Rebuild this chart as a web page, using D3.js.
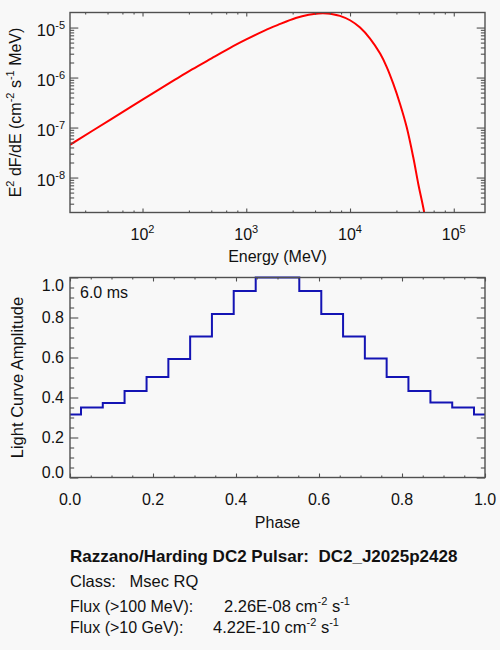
<!DOCTYPE html>
<html><head><meta charset="utf-8">
<script src="https://cdn.jsdelivr.net/npm/d3@7"></script>
<style>
html,body{margin:0;padding:0;background:#f8f8f8;}
svg{display:block;font-family:"Liberation Sans",Arial,Helvetica,sans-serif;}
text{fill:#111;white-space:pre;}
</style></head><body>
<svg id="c" width="500" height="650"></svg>
<script>
// ---- data ----
const energy = [20, 50, 100, 200, 300, 500, 700, 1000, 1500, 2000, 3000, 4000, 5000, 6000, 7000, 8000, 10000, 12500, 15600, 19500, 22600, 26100, 30300, 35200, 40700, 45500, 52000, 56000];
const sed    = [4.52e-8, 1.48e-7, 3.63e-7, 8.75e-7, 1.45e-6, 2.64e-6, 3.94e-6, 5.79e-6, 8.71e-6, 1.12e-5, 1.55e-5, 1.80e-5, 1.91e-5, 1.91e-5, 1.83e-5, 1.71e-5, 1.40e-5, 1.0e-5, 6.01e-6, 3.01e-6, 1.62e-6, 7.53e-7, 2.99e-7, 1.01e-7, 2.54e-8, 7.43e-9, 1.95e-9, 6.3e-10];
const phase  = [0.000, 0.053, 0.105, 0.158, 0.211, 0.263, 0.316, 0.368, 0.421, 0.474, 0.526, 0.579, 0.632, 0.684, 0.737, 0.789, 0.842, 0.895, 0.947, 1.000];
const amplitude = [0.315, 0.350, 0.373, 0.432, 0.503, 0.593, 0.705, 0.818, 0.933, 1.0, 1.0, 0.933, 0.818, 0.705, 0.595, 0.503, 0.432, 0.375, 0.350, 0.315];
const energyTicks = [100, 1000, 10000, 100000];
const energyExp   = ["2", "3", "4", "5"];
const sedTicks = [1e-8, 1e-7, 1e-6, 1e-5];
const sedExp   = ["-8", "-7", "-6", "-5"];
const energyMinorFactors = [2.8, 4.6, 6.4, 8.2];
const sedMinorFactors = [2, 3, 4, 5, 6, 7, 8, 9];
const phaseTicks = [0, 0.2, 0.4, 0.6, 0.8, 1.0];
const phaseMinor = [0.05, 0.1, 0.15, 0.25, 0.3, 0.35, 0.45, 0.5, 0.55, 0.65, 0.7, 0.75, 0.85, 0.9, 0.95];
const ampTicks = [0, 0.2, 0.4, 0.6, 0.8, 1.0];
const ampMinor = [0.05, 0.1, 0.15, 0.25, 0.3, 0.35, 0.45, 0.5, 0.55, 0.65, 0.7, 0.75, 0.85, 0.9, 0.95];
const periodLabel = "6.0 ms";
const infoTitle = "Razzano/Harding DC2 Pulsar:  DC2_J2025p2428";
const infoClass = "Class:   Msec RQ";
const fluxLabels = ["Flux (>100 MeV):", "Flux (>10 GeV):"];
const fluxValues = ["2.26E-08", "4.22E-10"];

// ---- layout ----
const L = 70, R = 485;
const T1 = 12.5, B1 = 212.5;
const T2 = 277.5, B2 = 477.5;
const frameColor = "#505050";
const svg = d3.select("#c");
svg.append("rect").attr("width", 500).attr("height", 650).attr("fill", "#f8f8f8");

const xE = d3.scaleLog().domain([20, 2e5]).range([L, R]);
const yF = d3.scaleLog().domain([2e-9, 2e-5]).range([B1, T1]);
const xP = d3.scaleLinear().domain([0, 1]).range([L, R]);
const yA = d3.scaleLinear().domain([0, 1]).range([B2, T2]);

function minorLog(domain, factors) {
  const out = [];
  const lo = Math.floor(Math.log10(domain[0])), hi = Math.ceil(Math.log10(domain[1]));
  for (let e = lo; e <= hi; e++) {
    factors.forEach(f => {
      const v = f * Math.pow(10, e);
      if (v > domain[0] * 1.0001 && v < domain[1] * 0.9999) out.push(v);
    });
  }
  return out;
}

function ticks(x, y, top, bottom, xMaj, xMin, yMaj, yMin) {
  const xl = (bottom - top) * 0.02, yl = (R - L) * 0.02;
  const defs = [
    [d3.axisBottom(x), bottom, xMaj, -xl, "x"], [d3.axisBottom(x), bottom, xMin, -xl / 2, "x"],
    [d3.axisTop(x), top, xMaj, -xl, "x"], [d3.axisTop(x), top, xMin, -xl / 2, "x"],
    [d3.axisLeft(y), L, yMaj, -yl, "y"], [d3.axisLeft(y), L, yMin, -yl / 2, "y"],
    [d3.axisRight(y), R, yMaj, -yl, "y"], [d3.axisRight(y), R, yMin, -yl / 2, "y"]
  ];
  defs.forEach(([ax, pos, vals, size, kind]) => {
    const g = svg.append("g")
      .attr("transform", kind === "x" ? `translate(0,${pos})` : `translate(${pos},0)`)
      .style("color", frameColor)
      .call(ax.tickValues(vals).tickSize(size).tickFormat(""));
    g.select(".domain").remove();
    g.selectAll("text").remove();
    g.selectAll("line").attr("stroke-width", 1.1);
  });
  svg.append("rect").attr("x", L).attr("y", top).attr("width", R - L).attr("height", bottom - top)
    .attr("fill", "none").attr("stroke", frameColor).attr("stroke-width", 1.4);
}

// ---- top: spectrum ----
svg.append("clipPath").attr("id", "clipTop").append("rect")
  .attr("x", L).attr("y", T1 - 2).attr("width", R - L).attr("height", B1 - T1 + 2);
svg.append("path")
  .datum(energy.map((e, i) => [e, sed[i]]))
  .attr("clip-path", "url(#clipTop)")
  .attr("fill", "none").attr("stroke", "#ff0000").attr("stroke-width", 2)
  .attr("d", d3.line().x(d => xE(d[0])).y(d => yF(d[1])).curve(d3.curveCatmullRom.alpha(0.5)));

ticks(xE, yF, T1, B1, energyTicks, minorLog(xE.domain(), energyMinorFactors),
      sedTicks, minorLog(yF.domain(), sedMinorFactors));

energyTicks.forEach((v, i) => {
  const t = svg.append("text").attr("x", xE(v)).attr("y", B1 + 27).attr("text-anchor", "middle")
    .style("font-size", "16px");
  t.append("tspan").text("10");
  t.append("tspan").attr("dy", -7).style("font-size", "11px").text(energyExp[i]);
});
sedTicks.forEach((v, i) => {
  const t = svg.append("text").attr("x", 65).attr("y", yF(v) + 8).attr("text-anchor", "end")
    .style("font-size", "16.5px");
  t.append("tspan").text("10");
  t.append("tspan").attr("dy", -7).style("font-size", "11px").text(sedExp[i]);
});
svg.append("text").attr("x", (L + R) / 2).attr("y", 262).attr("text-anchor", "middle")
  .style("font-size", "16px").text("Energy (MeV)");
{
  const t = svg.append("text").attr("transform", `translate(21,${(T1 + B1) / 2}) rotate(-90)`)
    .attr("text-anchor", "middle").style("font-size", "16px");
  const parts = [["E", 0], ["2", 1], [" dF/dE (cm", 0], ["-2", 1], [" s", 0], ["-1", 1], [" MeV)", 0]];
  let prev = 0;
  parts.forEach(([s, sup]) => {
    const sp = t.append("tspan").text(s);
    const dy = (sup ? -7 : 0) - (prev ? -7 : 0);
    if (dy) sp.attr("dy", dy);
    if (sup) sp.style("font-size", "11px");
    prev = sup;
  });
}

// ---- bottom: light curve ----
svg.append("path")
  .datum(phase.map((p, i) => [p, amplitude[i]]))
  .attr("fill", "none").attr("stroke", "#1414b4").attr("stroke-width", 2)
  .attr("d", d3.line().x(d => xP(d[0])).y(d => yA(d[1])).curve(d3.curveStep));

ticks(xP, yA, T2, B2, phaseTicks, phaseMinor, ampTicks, ampMinor);

const f1 = d3.format(".1f");
phaseTicks.forEach(v => {
  svg.append("text").attr("x", xP(v)).attr("y", B2 + 27).attr("text-anchor", "middle")
    .style("font-size", "16px").text(f1(v));
});
ampTicks.forEach(v => {
  const y = Math.min(Math.max(yA(v) + 5.5, T2 + 13.5), B2);
  svg.append("text").attr("x", 64).attr("y", y).attr("text-anchor", "end")
    .style("font-size", "16px").text(f1(v));
});
svg.append("text").attr("x", 80).attr("y", 297.5).style("font-size", "16px").text(periodLabel);
svg.append("text").attr("x", (L + R) / 2).attr("y", 527.5).attr("text-anchor", "middle")
  .style("font-size", "16px").text("Phase");
svg.append("text").attr("transform", `translate(23,${(T2 + B2) / 2}) rotate(-90)`)
  .attr("text-anchor", "middle").style("font-size", "16.5px").text("Light Curve Amplitude");

// ---- info text ----
svg.append("text").attr("x", 70).attr("y", 562).style("font-size", "17px").style("font-weight", "bold").text(infoTitle);
svg.append("text").attr("x", 70).attr("y", 587).style("font-size", "16.5px").text(infoClass);
[[612, 224], [633, 213]].forEach(([y, vx], i) => {
  svg.append("text").attr("x", 70).attr("y", y).style("font-size", "16px").text(fluxLabels[i]);
  const t = svg.append("text").attr("x", vx).attr("y", y).style("font-size", "16.5px");
  t.append("tspan").text(fluxValues[i] + " cm");
  t.append("tspan").attr("dy", -7).style("font-size", "11px").text("-2");
  t.append("tspan").attr("dy", 7).text(" s");
  t.append("tspan").attr("dy", -7).style("font-size", "11px").text("-1");
});
</script>
</body></html>
